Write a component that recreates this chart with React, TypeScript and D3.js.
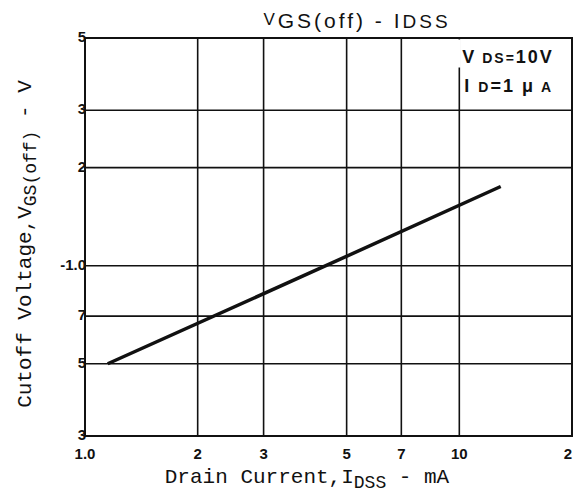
import React, { useEffect, useRef } from 'react';
import * as d3 from 'd3';

// x ticks (Drain current, mA) and y ticks (cutoff voltage, V)
const xTicks = [1, 2, 3, 5, 7, 10, 20];
const xTickLabels = ['1.0', '2', '3', '5', '7', '10', '2'];
const yTicks = [0.3, 0.5, 0.7, 1, 2, 3, 5];
const yTickLabels = ['3', '5', '7', '-1.0', '2', '3', '5'];

// the curve
const idss = [1.15, 4.4, 12.9];
const vgsOff = [0.5, 1.0, 1.75];

export default function App() {
    const svgRef = useRef(null);

    useEffect(() => {
        if (!svgRef.current) return;
        const svg = d3.select(svgRef.current);
        svg.selectAll('*').remove();

        const left = 85, right = 572, top = 38, bottom = 436;
        const mono = '"Liberation Mono", "DejaVu Sans Mono", monospace';
        const sans = '"Liberation Sans", Arial, sans-serif';

        const x = d3.scaleLog().domain([1, 20]).range([left, right]);
        const y = d3.scaleLog().domain([0.3, 5]).range([bottom, top]);

        // grid
        svg.append('g')
            .selectAll('line')
            .data(xTicks.slice(1, -1))
            .enter()
            .append('line')
            .attr('x1', d => x(d))
            .attr('x2', d => x(d))
            .attr('y1', top)
            .attr('y2', bottom)
            .attr('stroke', '#111')
            .attr('stroke-width', 1.6);

        svg.append('g')
            .selectAll('line')
            .data(yTicks.slice(1, -1))
            .enter()
            .append('line')
            .attr('x1', left)
            .attr('x2', right)
            .attr('y1', d => y(d))
            .attr('y2', d => y(d))
            .attr('stroke', '#111')
            .attr('stroke-width', 1.6);

        // annotation (covers top of the 10 gridline)
        svg.append('rect')
            .attr('x', x(10) - 1.5)
            .attr('y', top + 1.5)
            .attr('width', 3)
            .attr('height', 28)
            .attr('fill', '#fff');

        const note = svg.append('g')
            .style('font-family', sans)
            .style('font-weight', 'bold')
            .style('fill', '#111');
        const l1 = note.append('text').attr('x', x(10) + 3).attr('y', 63).style('font-size', '18px').style('letter-spacing', '2px');
        l1.append('tspan').text('V');
        l1.append('tspan').style('font-size', '14px').text(' DS=');
        l1.append('tspan').text('10V');
        const l2 = note.append('text').attr('x', x(10) + 5).attr('y', 92).style('font-size', '18px').style('letter-spacing', '2px');
        l2.append('tspan').text('I ');
        l2.append('tspan').style('font-size', '14px').text('D');
        l2.append('tspan').text('=1 μ');
        l2.append('tspan').style('font-size', '14px').text(' A');

        // frame
        svg.append('rect')
            .attr('x', left)
            .attr('y', top)
            .attr('width', right - left)
            .attr('height', bottom - top)
            .attr('fill', 'none')
            .attr('stroke', '#111')
            .attr('stroke-width', 2);

        // curve
        const line = d3.line()
            .x(d => x(d[0]))
            .y(d => y(d[1]));
        svg.append('path')
            .datum(idss.map((v, i) => [v, vgsOff[i]]))
            .attr('d', line)
            .attr('fill', 'none')
            .attr('stroke', '#111')
            .attr('stroke-width', 3.5);

        // tick labels
        svg.append('g')
            .selectAll('text')
            .data(xTicks)
            .enter()
            .append('text')
            .attr('x', d => x(d))
            .attr('y', 459)
            .attr('text-anchor', (d, i) => (i === xTicks.length - 1 ? 'end' : 'middle'))
            .style('font-family', sans)
            .style('font-weight', 'bold')
            .style('font-size', '15px')
            .style('fill', '#111')
            .text((d, i) => xTickLabels[i]);

        svg.append('g')
            .selectAll('text')
            .data(yTicks)
            .enter()
            .append('text')
            .attr('x', left + 1)
            .attr('y', d => y(d) + 4)
            .attr('text-anchor', 'end')
            .style('font-family', sans)
            .style('font-weight', 'bold')
            .style('font-size', '15px')
            .style('fill', '#111')
            .text((d, i) => yTickLabels[i]);

        // title
        const title = svg.append('text')
            .attr('x', 357)
            .attr('y', 28)
            .attr('text-anchor', 'middle')
            .style('font-family', sans)
            .style('font-size', '21px')
            .style('letter-spacing', '3px')
            .style('fill', '#111');
        title.append('tspan').style('font-size', '17px').attr('dy', -3).text('V');
        title.append('tspan').attr('dy', 3).text('GS(off)  -  I');
        title.append('tspan').style('font-size', '19px').text('DSS');

        // x axis label
        const xl = svg.append('text')
            .attr('x', 307)
            .attr('y', 483)
            .attr('text-anchor', 'middle')
            .style('font-family', mono)
            .style('font-size', '21px')
            .style('fill', '#111');
        xl.append('tspan').text('Drain Current,I');
        xl.append('tspan').style('font-size', '18px').attr('dy', 5).text('DSS');
        xl.append('tspan').attr('dy', -5).text(' - mA');

        // y axis label
        const yl = svg.append('text')
            .attr('transform', 'translate(31,244) rotate(-90)')
            .attr('text-anchor', 'middle')
            .style('font-family', mono)
            .style('font-size', '21px')
            .style('fill', '#111');
        yl.append('tspan').text('Cutoff Voltage,V');
        yl.append('tspan').style('font-size', '18px').attr('dy', 5).text('GS(off)');
        yl.append('tspan').attr('dy', -5).text(' - V');
    }, []);

    return (
        <svg
            ref={svgRef}
            width="582"
            height="495"
            style={{ position: 'absolute', left: 0, top: 0, background: '#fff' }}
        />
    );
}
